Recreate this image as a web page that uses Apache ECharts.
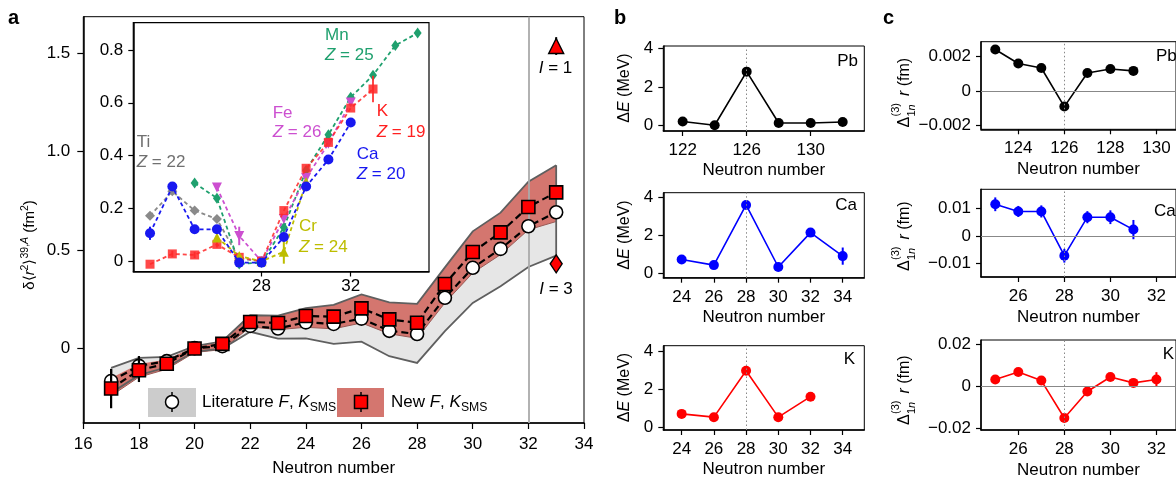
<!DOCTYPE html>
<html><head><meta charset="utf-8">
<script src="https://cdn.jsdelivr.net/npm/echarts@6/dist/echarts.min.js"></script>
<style>html,body{margin:0;padding:0;background:#fff}#c{width:1176px;height:482px}</style>
</head><body><div id="c"></div>
<script>
// ---------- Panel a: main ----------
const mainN   = [17,18,19,20,21,22,23,24,25,26,27,28,29,30,31,32,33];
const newVals = [-0.203,-0.110,-0.077,0.000,0.024,0.135,0.130,0.165,0.162,0.204,0.148,0.131,0.328,0.490,0.590,0.719,0.793];
const newErr  = [0.100,0.060,0.015,0.006,0.010,0.010,0.010,0.012,0.012,0.014,0.012,0.012,0.014,0.014,0.014,0.016,0.030];
const litVals = [-0.165,-0.088,-0.064,0.002,0.012,0.115,0.102,0.133,0.125,0.152,0.090,0.074,0.258,0.410,0.506,0.621,0.692];
const litErr  = [0.060,0.050,0.012,0.005,0.008,0.010,0.010,0.010,0.010,0.012,0.010,0.010,0.012,0.012,0.012,0.014,0.020];
const greyUpper = [-0.098,-0.047,-0.042,0.012,0.037,0.169,0.167,0.205,0.222,0.275,0.234,0.227,0.412,0.595,0.690,0.847,0.931];
const greyLower = [-0.225,-0.135,-0.095,-0.015,0.000,0.085,0.050,0.052,0.024,0.035,-0.039,-0.073,0.088,0.232,0.316,0.414,0.472];
const redUpper  = [-0.150,-0.078,-0.055,0.010,0.035,0.169,0.167,0.205,0.222,0.275,0.234,0.227,0.412,0.595,0.690,0.847,0.931];
const redLower  = [-0.240,-0.145,-0.105,-0.020,-0.005,0.110,0.096,0.108,0.100,0.130,0.075,0.052,0.232,0.384,0.477,0.603,0.645];
const spinN = 33, spinI1 = 1.536, spinI1Err = 0.045, spinI3 = 0.430, spinI3Err = 0.035;
const mainYTicks = [0, 0.5, 1.0, 1.5];
const markN = 32;

// ---------- Panel a: inset ----------
const tiN = [23,24,25,26,27,28];            const tiV = [0.172,0.265,0.192,0.160,0.010,0.000];
const caN = [23,24,25,26,27,28,29,30,31,32]; const caV = [0.106,0.283,0.121,0.121,-0.005,-0.005,0.092,0.283,0.385,0.525];
const caE = [0.025,0,0,0,0,0,0,0,0,0];
const kN  = [23,24,25,26,27,28,29,30,31,32,33]; const kV = [-0.011,0.028,0.024,0.064,0.015,0.000,0.192,0.352,0.450,0.580,0.652];
const kE  = [0,0.012,0.012,0.012,0,0,0,0,0,0,0.05];
const crN = [26,27,28,29,30];               const crV = [0.090,0.020,0.000,0.036,0.300];
const crE = [0,0,0,0.045,0];
const mnN = [25,26,27,28,29,30,31,32,33,34,35]; const mnV = [0.296,0.239,-0.010,-0.005,0.128,0.345,0.479,0.621,0.704,0.817,0.864];
const feN = [26,27,28,29,30,31,32];         const feV = [0.279,0.096,0.000,0.160,0.315,0.445,0.601];
const feE = [0,0.035,0,0,0,0,0];
const insetXTicks = [28, 32];
const insetYTicks = [0, 0.2, 0.4, 0.6, 0.8];

// ---------- Panel b ----------
const bPbN = [122,124,126,128,130,132]; const bPbV = [0.20,0.00,2.80,0.12,0.12,0.17];
const bCaN = [24,26,28,30,32,34];       const bCaV = [0.74,0.45,3.60,0.35,2.15,0.92];
const bCaErr = [0,0,0,0,0,0.45];
const bKN  = [24,26,28,30,32];          const bKV  = [0.72,0.55,2.97,0.55,1.62];
const bYTicks = [0, 2, 4];
const bXTicksPb = [122, 126, 130];
const bXTicks = [24, 26, 28, 30, 32, 34];

// ---------- Panel c ----------
const cPbN = [123,124,125,126,127,128,129]; const cPbV = [0.00242,0.00160,0.00134,-0.00092,0.00105,0.00128,0.00117];
const cCaN = [25,26,27,28,29,30,31];        const cCaV = [0.0116,0.0090,0.0090,-0.0071,0.0069,0.0069,0.0024];
const cCaErr = [0.0025,0.0020,0.0022,0.0025,0.0022,0.0025,0.0035];
const cKN  = [25,26,27,28,29,30,31,32];     const cKV  = [0.0032,0.0068,0.0027,-0.0151,-0.0025,0.0044,0.0016,0.0032];
const cKErr = [0.0010,0.0015,0.0010,0.0010,0.0010,0.0010,0.0010,0.0035];
const cYTicksPb = [-0.002, 0, 0.002];
const cYTicksCa = [-0.01, 0, 0.01];
const cYTicksK  = [-0.02, 0, 0.02];
const cXTicksPb = [124, 126, 128, 130];
const cXTicks = [26, 28, 30, 32];

const FONT = 'Liberation Sans';
const pts = (xs, ys) => xs.map((x, i) => [x, ys[i]]);
const minus = s => s.replace('-', '\u2212');

function xAx(gi, min, max, ticks, opt = {}) {
  return Object.assign({
    type: 'value', gridIndex: gi, min, max,
    axisLine: { show: true, onZero: false, lineStyle: { color: '#000', width: 1.5 } },
    axisTick: { show: true, inside: false, length: 5, customValues: ticks, lineStyle: { color: '#000', width: 1.2 } },
    axisLabel: { show: true, customValues: ticks, fontSize: 17, color: '#000', fontFamily: FONT, margin: 11,
      formatter: v => minus(String(Math.round(v))) },
    splitLine: { show: false }
  }, opt);
}
function yAx(gi, min, max, ticks, fmt, opt = {}) {
  return Object.assign({
    type: 'value', gridIndex: gi, min, max,
    axisLine: { show: true, onZero: false, lineStyle: { color: '#000', width: 1.5 } },
    axisTick: { show: true, inside: false, length: 5, customValues: ticks, lineStyle: { color: '#000', width: 1.2 } },
    axisLabel: { show: true, customValues: ticks, fontSize: 17, color: '#000', fontFamily: FONT, margin: 10, formatter: fmt },
    splitLine: { show: false }
  }, opt);
}
function errSeries(xi, xs, ys, es, color, width, z) {
  return {
    type: 'custom', xAxisIndex: xi, yAxisIndex: xi, z, silent: true,
    encode: { x: 0, y: 1 },
    data: xs.map((x, i) => [x, ys[i], es[i]]),
    renderItem: (p, api) => {
      const x = api.value(0), y = api.value(1), e = api.value(2);
      if (!e) return null;
      const a = api.coord([x, y - e]), b = api.coord([x, y + e]);
      return { type: 'line', shape: { x1: a[0], y1: a[1], x2: b[0], y2: b[1] }, style: { stroke: color, lineWidth: width } };
    }
  };
}
function lineSeries(xi, xs, ys, color, z, extra = {}) {
  return Object.assign({
    type: 'line', xAxisIndex: xi, yAxisIndex: xi, z, data: pts(xs, ys),
    symbol: 'circle', symbolSize: 10, showSymbol: true, animation: false,
    lineStyle: { color, width: 1.6 }, itemStyle: { color }
  }, extra);
}
const vDotted = x => ({ silent: true, symbol: 'none', label: { show: false },
  lineStyle: { color: '#888', type: [1.5, 2.5], width: 1 }, data: [{ xAxis: x }] });
const hZero = (x) => ({ silent: true, symbol: 'none', label: { show: false },
  data: [{ xAxis: x, lineStyle: { color: '#888', type: [1.5, 2.5], width: 1 } }, { yAxis: 0, lineStyle: { color: '#888', type: 'solid', width: 1 } }] });

// grids
const grids = [
  { left: 83.3, top: 16.7, width: 500.7, height: 406.8, show: true, borderColor: '#000', borderWidth: 1, z: 0 },
  { left: 133.3, top: 22.7, width: 295.7, height: 248.8, show: true, backgroundColor: '#fff', borderColor: '#000', borderWidth: 1.2, z: 10 },
  { left: 663.3, top: 46, width: 201, height: 85, show: true, borderColor: '#000', borderWidth: 1 },
  { left: 663.3, top: 192.7, width: 201, height: 85, show: true, borderColor: '#000', borderWidth: 1 },
  { left: 663.3, top: 345.7, width: 201, height: 84.3, show: true, borderColor: '#000', borderWidth: 1 },
  { left: 981, top: 41.7, width: 200, height: 87.6, show: true, borderColor: '#000', borderWidth: 1 },
  { left: 981, top: 189.3, width: 200, height: 87.7, show: true, borderColor: '#000', borderWidth: 1 },
  { left: 981, top: 340, width: 200, height: 90, show: true, borderColor: '#000', borderWidth: 1 }
];
const nn = (gap) => ({ name: 'Neutron number', nameLocation: 'middle', nameGap: gap,
  nameTextStyle: { fontSize: 17, color: '#000', fontFamily: FONT } });

const xAxes = [
  xAx(0, 16, 34, null, Object.assign({ interval: 2,
    axisTick: { show: true, inside: false, length: 6, lineStyle: { color: '#000', width: 1.2 } },
    axisLabel: { fontSize: 17, color: '#000', fontFamily: FONT, margin: 13 } }, nn(37))),
  xAx(1, 22.25, 35.51, insetXTicks, { z: 11, axisLabel: { customValues: insetXTicks, fontSize: 17, color: '#000', fontFamily: FONT, margin: 6 } }),
  xAx(2, 120.79, 133.35, bXTicksPb, nn(31)),
  xAx(3, 22.86, 35.34, bXTicks, nn(31)),
  xAx(4, 22.86, 35.34, bXTicks, nn(31)),
  xAx(5, 122.38, 130.85, cXTicksPb, nn(32)),
  xAx(6, 24.38, 32.85, cXTicks, nn(32)),
  xAx(7, 24.38, 32.85, cXTicks, nn(32))
];
const f1 = v => v === 0 ? '0' : v.toFixed(1);
const fInt = v => String(Math.round(v));
const fC = d => v => Math.abs(v) < 1e-9 ? '0' : minus(v.toFixed(d));
const yAxes = [
  yAx(0, -0.378, 1.685, mainYTicks, f1, { axisTick: { show: true, inside: false, length: 6, customValues: mainYTicks, lineStyle: { color: '#000', width: 1.2 } },
    axisLabel: { customValues: mainYTicks, fontSize: 17, color: '#000', fontFamily: FONT, margin: 13, formatter: f1 } }),
  yAx(1, -0.0386, 0.903, insetYTicks, f1, { z: 11 }),
  yAx(2, -0.30, 4.14, bYTicks, fInt),
  yAx(3, -0.21, 4.24, bYTicks, fInt),
  yAx(4, -0.12, 4.28, bYTicks, fInt),
  yAx(5, -0.00225, 0.00288, cYTicksPb, fC(3), { }),
  yAx(6, -0.01484, 0.01705, cYTicksCa, fC(2)),
  yAx(7, -0.0208, 0.022, cYTicksK, fC(2))
];

// band series (panel a)
const bandSeries = {
  type: 'custom', xAxisIndex: 0, yAxisIndex: 0, z: 2, silent: true, clip: true,
  encode: { x: 0, y: 1 },
  data: [[mainN[0], greyUpper[0]]],
  renderItem: (p, api) => {
    const c = (arr) => mainN.map((n, i) => api.coord([n, arr[i]]));
    const gu = c(greyUpper), gl = c(greyLower), ru = c(redUpper), rl = c(redLower);
    return { type: 'group', children: [
      { type: 'polygon', shape: { points: gu.concat(gl.slice().reverse()) }, style: { fill: '#e6e6e6' } },
      { type: 'polygon', shape: { points: ru.concat(rl.slice().reverse()) }, style: { fill: '#d4766f' } },
      { type: 'polyline', shape: { points: rl }, style: { stroke: '#9a5a56', lineWidth: 1, fill: null } },
      { type: 'polyline', shape: { points: gu }, style: { stroke: '#5f5f5f', lineWidth: 1.8, fill: null } },
      { type: 'polyline', shape: { points: gl }, style: { stroke: '#5f5f5f', lineWidth: 1.8, fill: null } },
      { type: 'line', shape: { x1: gu[gu.length - 1][0], y1: gu[gu.length - 1][1], x2: gl[gl.length - 1][0], y2: gl[gl.length - 1][1] },
        style: { stroke: '#5f5f5f', lineWidth: 1.8 } }
    ] };
  }
};

const dashMain = { color: '#000', width: 2.2, type: [7, 4] };
const series = [
  bandSeries,
  { type: 'line', xAxisIndex: 0, yAxisIndex: 0, z: 3, data: pts(mainN, litVals), symbol: 'none', lineStyle: dashMain,
    markLine: { silent: true, symbol: 'none', label: { show: false }, lineStyle: { color: '#aaa', type: 'solid', width: 1.8 }, data: [{ xAxis: markN }] } },
  errSeries(0, mainN, litVals, litErr, '#000', 2.2, 4),
  { type: 'scatter', xAxisIndex: 0, yAxisIndex: 0, z: 5, data: pts(mainN, litVals), symbol: 'circle', symbolSize: 13,
    itemStyle: { color: '#fff', borderColor: '#000', borderWidth: 1.6, opacity: 1 } },
  { type: 'line', xAxisIndex: 0, yAxisIndex: 0, z: 6, data: pts(mainN, newVals), symbol: 'none', lineStyle: dashMain },
  errSeries(0, mainN, newVals, newErr, '#000', 2.2, 7),
  { type: 'scatter', xAxisIndex: 0, yAxisIndex: 0, z: 8, data: pts(mainN, newVals), symbol: 'rect', symbolSize: 13,
    itemStyle: { color: '#ff0000', borderColor: '#000', borderWidth: 1.6, opacity: 1 } },
  errSeries(0, [spinN, spinN], [spinI1, spinI3], [spinI1Err, spinI3Err], '#000', 2, 8),
  { type: 'scatter', xAxisIndex: 0, yAxisIndex: 0, z: 9, data: [[spinN, spinI1]], symbol: 'triangle', symbolSize: 15,
    itemStyle: { color: '#ff0000', borderColor: '#000', borderWidth: 1.4, opacity: 1 } },
  { type: 'scatter', xAxisIndex: 0, yAxisIndex: 0, z: 9, data: [[spinN, spinI3]], symbol: 'diamond', symbolSize: [12, 18],
    itemStyle: { color: '#ff0000', borderColor: '#000', borderWidth: 1.4, opacity: 1 } },
];

// inset series
const insetDash = (color) => ({ color, width: 1.8, type: [4, 3] });
const inset = [
  [tiN, tiV, null, '#8a8a8a', 'diamond', 10, 0],
  [mnN, mnV, null, '#1fa06e', 'diamond', [8, 11], 0],
  [feN, feV, feE, '#cc4fd0', 'triangle', 10, 180],
  [kN, kV, kE, 'rgba(255,40,40,0.85)', 'rect', 9, 0],
  [crN, crV, crE, '#bdbd00', 'triangle', 10, 0],
  [caN, caV, caE, '#1818f0', 'circle', 10, 0]
];
inset.forEach((s, i) => {
  const [xs, ys, es, color, sym, size, rot] = s;
  if (es) series.push(errSeries(1, xs, ys, es, color, 2, 12 + i * 2));
  series.push({ type: 'line', xAxisIndex: 1, yAxisIndex: 1, z: 13 + i * 2, data: pts(xs, ys),
    symbol: sym, symbolSize: size, symbolRotate: rot, showSymbol: true,
    lineStyle: insetDash(color), itemStyle: { color, opacity: 1 },
    markLine: i === 0 ? { silent: true, symbol: 'none', label: { show: false },
      lineStyle: { color: '#999', type: [1.5, 2.5], width: 1 }, data: [{ xAxis: 28 }, { xAxis: 32 }] } : undefined });
});

// panel b
series.push(lineSeries(2, bPbN, bPbV, '#000', 3, { markLine: vDotted(126) }));
series.push(errSeries(3, bCaN, bCaV, bCaErr, '#0000ff', 2, 3));
series.push(lineSeries(3, bCaN, bCaV, '#0000ff', 4, { markLine: vDotted(28) }));
series.push(lineSeries(4, bKN, bKV, '#ff0000', 3, { markLine: vDotted(28) }));
// panel c
series.push(lineSeries(5, cPbN, cPbV, '#000', 3, { markLine: hZero(126) }));
series.push(errSeries(6, cCaN, cCaV, cCaErr, '#0000ff', 2, 3));
series.push(lineSeries(6, cCaN, cCaV, '#0000ff', 4, { markLine: hZero(28) }));
series.push(errSeries(7, cKN, cKV, cKErr, '#ff0000', 2, 3));
series.push(lineSeries(7, cKN, cKV, '#ff0000', 4, { markLine: hZero(28) }));

// graphics (text, legend, axis titles)
const T = (x, y, text, opt = {}) => Object.assign({ type: 'text', x, y, z: 100,
  style: Object.assign({ text, fontSize: 17, fontFamily: FONT, fill: '#000', align: 'left', verticalAlign: 'middle' }, opt.style || {}) }, opt.el || {});
const richBase = (fs, color) => ({
  n: { fontSize: fs, fontFamily: FONT, fill: color, lineHeight: fs + 6 },
  i: { fontSize: fs, fontFamily: FONT, fill: color, fontStyle: 'italic', lineHeight: fs + 6 },
  s: { fontSize: fs * 0.7, fontFamily: FONT, fill: color, lineHeight: fs * 0.75, verticalAlign: 'top' },
  si: { fontSize: fs * 0.7, fontFamily: FONT, fill: color, fontStyle: 'italic', lineHeight: fs * 0.75, verticalAlign: 'top' },
  b: { fontSize: fs * 0.72, fontFamily: FONT, fill: color, lineHeight: fs * 0.75, verticalAlign: 'bottom' }
});
const RT = (x, y, text, fs, color, align = 'left') => ({ type: 'text', x, y, z: 100,
  style: { text, rich: richBase(fs, color), align, verticalAlign: 'middle', fill: color, fontSize: fs, fontFamily: FONT } });

const graphics = [
  T(8, 18, 'a', { style: { fontSize: 20, fontWeight: 'bold' } }),
  T(614, 18, 'b', { style: { fontSize: 20, fontWeight: 'bold' } }),
  T(883, 18, 'c', { style: { fontSize: 20, fontWeight: 'bold' } }),
  // main y title
  { type: 'group', x: 30, y: 245, rotation: Math.PI / 2, z: 100, children: [
    { type: 'text', x: 0, y: 0, style: { text: '{n|δ⟨}{i|r}{s|2}{n|⟩}{s|39,}{si|A}{n| (fm}{s|2}{n|)}', rich: richBase(15, '#000'),
      align: 'center', verticalAlign: 'middle', fontSize: 15, fontFamily: FONT } } ] },
  // inset labels
  RT(136.7, 142.7, '{n|Ti}', 17, '#707070'), RT(136.7, 162.3, '{i|Z}{n| = 22}', 17, '#707070'),
  RT(325, 35, '{n|Mn}', 17, '#1fa06e'), RT(325, 55.3, '{i|Z}{n| = 25}', 17, '#1fa06e'),
  RT(272.7, 113.3, '{n|Fe}', 17, '#cc4fd0'), RT(272.7, 132.7, '{i|Z}{n| = 26}', 17, '#cc4fd0'),
  RT(376.7, 111.7, '{n|K}', 17, '#ff2020'), RT(376.7, 132, '{i|Z}{n| = 19}', 17, '#ff2020'),
  RT(356.7, 154, '{n|Ca}', 17, '#1818f0'), RT(356.7, 174, '{i|Z}{n| = 20}', 17, '#1818f0'),
  RT(299, 226.7, '{n|Cr}', 17, '#bdbd00'), RT(299, 247.3, '{i|Z}{n| = 24}', 17, '#bdbd00'),
  RT(555.5, 68, '{i|I}{n| = 1}', 17, '#000', 'center'),
  RT(556, 289, '{i|I}{n| = 3}', 17, '#000', 'center'),
  // legend
  { type: 'rect', z: 100, shape: { x: 148, y: 388, width: 48, height: 29 }, style: { fill: '#cccccc' } },
  { type: 'line', z: 101, shape: { x1: 172, y1: 392, x2: 172, y2: 412 }, style: { stroke: '#000', lineWidth: 1.5 } },
  { type: 'circle', z: 102, shape: { cx: 172, cy: 402, r: 6.5 }, style: { fill: '#fff', stroke: '#000', lineWidth: 1.5 } },
  RT(202, 402, '{n|Literature }{i|F}{n|, }{i|K}{b|SMS}', 17, '#000'),
  { type: 'rect', z: 100, shape: { x: 337, y: 388, width: 47, height: 29 }, style: { fill: '#d4766f' } },
  { type: 'line', z: 101, shape: { x1: 361, y1: 392, x2: 361, y2: 412 }, style: { stroke: '#000', lineWidth: 1.5 } },
  { type: 'rect', z: 102, shape: { x: 354.5, y: 395.5, width: 13, height: 13 }, style: { fill: '#ff0000', stroke: '#000', lineWidth: 1.5 } },
  RT(391, 402, '{n|New }{i|F}{n|, }{i|K}{b|SMS}', 17, '#000'),
  // panel labels
  T(858, 61, 'Pb', { style: { align: 'right' } }),
  T(857, 205.7, 'Ca', { style: { align: 'right' } }),
  T(855, 359, 'K', { style: { align: 'right' } }),
  T(1156, 56.7, 'Pb'), T(1154, 211, 'Ca'), T(1162.7, 354.3, 'K')
];
// panel b y titles
[88, 235, 387.5].forEach(cy => graphics.push({ type: 'group', x: 625, y: cy, rotation: Math.PI / 2, z: 100, children: [
  { type: 'text', x: 0, y: 0, style: { text: '{n|Δ}{i|E}{n| (MeV)}', rich: richBase(16, '#000'), align: 'center', verticalAlign: 'middle', fontSize: 16, fontFamily: FONT } }] }));
// panel c y titles
[90.5, 234, 388].forEach(cy => graphics.push({ type: 'group', x: 905, y: cy, rotation: Math.PI / 2, z: 100, children: [
  { type: 'text', x: -37, y: 0, style: { text: 'Δ', fontSize: 16, fontFamily: FONT, fill: '#000', align: 'left', verticalAlign: 'middle' } },
  { type: 'text', x: -26, y: -9, style: { text: '(3)', fontSize: 11, fontFamily: FONT, fill: '#000', align: 'left', verticalAlign: 'middle' } },
  { type: 'text', x: -26, y: 7, style: { text: '{n|1}{i|n}', rich: { n: { fontSize: 11, fontFamily: FONT }, i: { fontSize: 11, fontFamily: FONT, fontStyle: 'italic' } }, fontSize: 11, align: 'left', verticalAlign: 'middle' } },
  { type: 'text', x: -10, y: 0, style: { text: '{n| }{i|r}{n| (fm)}', rich: richBase(16, '#000'), fontSize: 16, fontFamily: FONT, align: 'left', verticalAlign: 'middle' } }
] }));

const chart = echarts.init(document.getElementById('c'), null, { renderer: 'canvas' });
chart.setOption({
  animation: false,
  backgroundColor: '#fff',
  textStyle: { fontFamily: FONT },
  grid: grids, xAxis: xAxes, yAxis: yAxes, series, graphic: graphics
});
</script></body></html>
